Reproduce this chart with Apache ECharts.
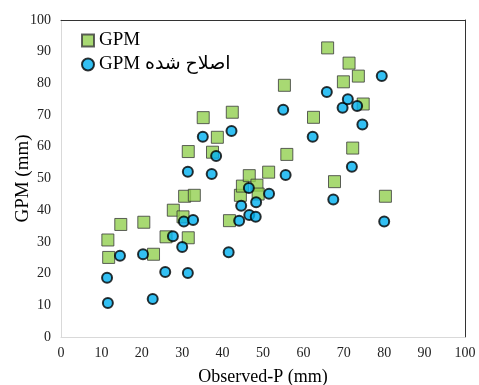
<!DOCTYPE html>
<html>
<head>
<meta charset="utf-8">
<script src="https://cdn.jsdelivr.net/npm/echarts@6/dist/echarts.min.js"></script>
<style>
  html, body { margin: 0; padding: 0; background: #fff; }
  #chart { width: 479px; height: 385px; }
</style>
</head>
<body>
<div id="chart"></div>
<script>
  // GPM (squares): [observed, simulated]
  var gpmX = [11.6, 11.8, 14.8, 20.5, 22.9, 26.0, 27.8, 30.2, 31.5, 30.6, 33.0, 31.5, 35.2, 37.5, 38.7, 42.4, 41.7,
              44.4, 44.9, 46.6, 48.5, 48.8, 51.4, 55.3, 55.9, 62.5, 66.0, 67.7, 69.9, 71.3, 72.2, 73.6, 74.8, 80.3];
  var gpmY = [30.6, 25.1, 35.5, 36.2, 26.1, 31.6, 40.0, 37.9, 31.3, 44.4, 44.7, 58.5, 69.2, 58.3, 63.0, 70.9, 36.7,
              44.7, 47.6, 50.9, 47.9, 45.1, 52.0, 79.4, 57.6, 69.3, 91.2, 49.0, 80.5, 86.4, 59.6, 82.3, 73.5, 44.4];
  // corrected GPM (circles)
  var corrX = [11.4, 11.6, 14.6, 20.3, 22.7, 25.8, 27.7, 30.0, 30.4, 31.4, 32.7, 31.4, 35.1, 37.3, 38.4, 42.2, 41.5, 44.1,
               44.6, 46.5, 46.6, 48.2, 48.3, 51.5, 55.0, 55.6, 62.3, 65.8, 67.4, 69.7, 71.0, 72.0, 73.3, 74.6, 79.4, 80.0];
  var corrY = [18.7, 10.7, 25.6, 26.1, 12.0, 20.5, 31.8, 28.4, 36.4, 20.2, 36.9, 52.1, 63.2, 51.4, 57.1, 65.0, 26.7, 36.7,
               41.4, 47.0, 38.5, 37.9, 42.5, 45.2, 71.7, 51.1, 63.2, 77.3, 43.4, 72.3, 75.0, 53.7, 72.9, 67.0, 82.3, 36.4];
  var seriesNames = ['GPM', 'GPM اصلاح شده'];

  function pairs(xs, ys) {
    var out = [];
    for (var i = 0; i < xs.length; i++) out.push([xs[i], ys[i]]);
    return out;
  }

  var font = '"Liberation Serif", "Times New Roman", "DejaVu Sans", serif';
  var chart = echarts.init(document.getElementById('chart'), null, { renderer: 'canvas' });

  chart.setOption({
    animation: false,
    backgroundColor: '#fff',
    grid: { left: 61, right: 14, top: 20, bottom: 48, show: false, containLabel: false, outerBoundsMode: 'none' },
    legend: {
      orient: 'vertical',
      left: 76,
      top: 26,
      itemWidth: 12,
      itemHeight: 12,
      itemGap: 5,
      textStyle: { fontFamily: font, fontSize: 19, color: '#000' },
      data: [
        { name: seriesNames[0], icon: 'rect' },
        { name: seriesNames[1], icon: 'circle' }
      ]
    },
    xAxis: [{
      type: 'value',
      min: 0, max: 100, interval: 10,
      name: 'Observed-P (mm)',
      nameLocation: 'middle',
      nameGap: 31,
      nameMoveOverlap: false,
      nameTextStyle: { fontFamily: font, fontSize: 18, color: '#000' },
      axisLine: { show: true, lineStyle: { color: '#d9d9d9', width: 1 } },
      axisTick: { show: false },
      axisLabel: { fontFamily: font, fontSize: 14, color: '#222', margin: 9 },
      splitLine: { show: false }
    }, {
      type: 'value', position: 'top', min: 0, max: 100,
      axisLine: { show: true, onZero: false, lineStyle: { color: '#333', width: 1 } },
      axisTick: { show: false }, axisLabel: { show: false }, splitLine: { show: false }
    }],
    yAxis: [{
      type: 'value',
      min: 0, max: 100, interval: 10,
      name: 'GPM (mm)',
      nameLocation: 'middle',
      nameGap: 28,
      nameMoveOverlap: false,
      nameTextStyle: { fontFamily: font, fontSize: 19, color: '#000' },
      axisLine: { show: true, lineStyle: { color: '#d9d9d9', width: 1 } },
      axisTick: { show: false },
      axisLabel: { fontFamily: font, fontSize: 14, color: '#222', margin: 10 },
      splitLine: { show: false }
    }, {
      type: 'value', position: 'right', min: 0, max: 100,
      axisLine: { show: true, onZero: false, lineStyle: { color: '#333', width: 1 } },
      axisTick: { show: false }, axisLabel: { show: false }, splitLine: { show: false }
    }],
    series: [{
      name: seriesNames[0],
      type: 'scatter',
      symbol: 'rect',
      symbolSize: 12,
      itemStyle: { color: '#92d050', borderColor: '#3a3a3a', borderWidth: 1 },
      data: pairs(gpmX, gpmY)
    }, {
      name: seriesNames[1],
      type: 'scatter',
      symbol: 'circle',
      symbolSize: 10,
      itemStyle: { color: '#00b0f0', borderColor: '#000', borderWidth: 2 },
      data: pairs(corrX, corrY)
    }]
  });
</script>
</body>
</html>
